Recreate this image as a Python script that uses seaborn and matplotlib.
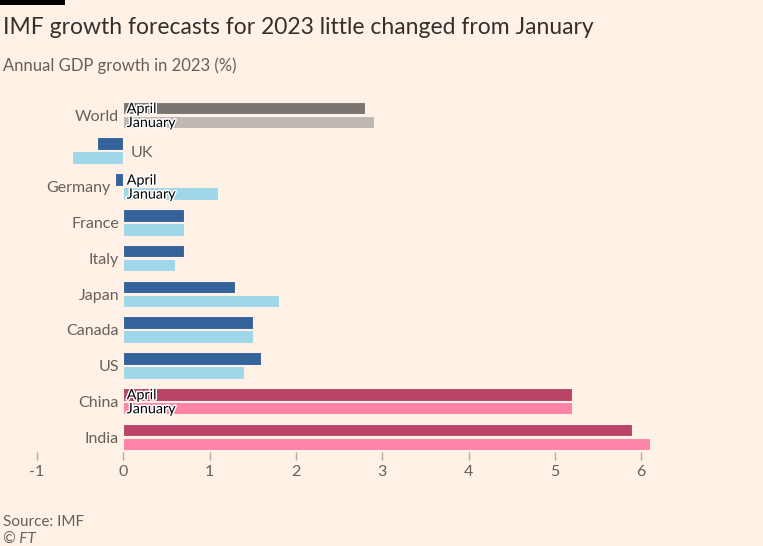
import matplotlib
matplotlib.use("Agg")
import matplotlib.pyplot as plt
import matplotlib.patheffects as pe
import seaborn as sns
import pandas as pd

countries = ["World", "UK", "Germany", "France", "Italy", "Japan", "Canada", "US", "China", "India"]
april = [2.8, -0.3, -0.1, 0.7, 0.7, 1.3, 1.5, 1.6, 5.2, 5.9]
january = [2.9, -0.6, 1.1, 0.7, 0.6, 1.8, 1.5, 1.4, 5.2, 6.1]
groups = ["world", "adv", "adv", "adv", "adv", "adv", "adv", "adv", "em", "em"]
labelled = ["World", "Germany", "China"]
xticks = [-1, 0, 1, 2, 3, 4, 5, 6]

palettes = {
    "world": ["#7a7570", "#bfb7b2"],
    "adv": ["#33639a", "#9fd6e9"],
    "em": ["#ba4468", "#fd83a7"],
}

BG = "#fff1e5"
rows = []
for c, a, j, g in zip(countries, april, january, groups):
    rows.append({"country": c, "series": "April", "value": a, "group": g})
    rows.append({"country": c, "series": "January", "value": j, "group": g})
df = pd.DataFrame(rows)

sns.set_theme(style="white")
plt.rcParams["font.family"] = ["Lato", "DejaVu Sans"]

W, H = 763, 546
fig = plt.figure(figsize=(W / 100, H / 100), dpi=100, facecolor=BG)
left, right, top, bottom = 37, 740, 93.5, 452
ax = fig.add_axes([left / W, 1 - bottom / H, (right - left) / W, (bottom - top) / H])
ax.set_facecolor(BG)

for g, pal in palettes.items():
    sub = df[df["group"] == g]
    sns.barplot(data=sub, y="country", x="value", hue="series",
                hue_order=["April", "January"], order=countries,
                palette=pal, ax=ax, legend=False, width=0.78, gap=0.1,
                orient="h", edgecolor=BG, linewidth=0.8, saturation=1)

ax.set_xlim(-1, -1 + (right - left) / 86.3)
ax.set_ylim(9 + (bottom - 437) / 35.78, -0.6)
for s in ax.spines.values():
    s.set_visible(False)
ax.set_ylabel("")
ax.set_xlabel("")
ax.set_yticks([])
ax.set_xticks(xticks)
ax.set_xticklabels([str(t) for t in xticks])
ax.tick_params(axis="x", bottom=True, length=6, width=1, color="#b3aca6",
               labelsize=11.5, labelcolor="#66605c", pad=3)

# category labels
for i, (c, a, j) in enumerate(zip(countries, april, january)):
    lo = min(a, j)
    if max(a, j) < 0:
        ax.text(0.09, i + 0.05, c, ha="left", va="center", fontsize=11.5, color="#66605c")
    else:
        ax.text(min(lo, 0) - 0.05, i + 0.05, c, ha="right", va="center", fontsize=11.5, color="#66605c")

# in-bar series labels
off = 0.78 / 4
for c in labelled:
    i = countries.index(c)
    for k, name in enumerate(["April", "January"]):
        y = i - off if k == 0 else i + off
        ax.text(0.04, y + 0.03, name, ha="left", va="center", fontsize=10.3, color="#000000",
                path_effects=[pe.withStroke(linewidth=2.2, foreground="white")])

# title block
fig.add_artist(plt.Rectangle((0, 1 - 5 / H), 65 / W, 5 / H, transform=fig.transFigure,
                             color="#000000", lw=0))
fig.text(3 / W, 1 - 28 / H, "IMF growth forecasts for 2023 little changed from January",
         fontsize=16.5, color="#33302e", va="center", ha="left")
fig.text(3 / W, 1 - 66 / H, "Annual GDP growth in 2023 (%)",
         fontsize=12, color="#66605c", va="center", ha="left")
fig.text(3 / W, 1 - 522 / H, "Source: IMF", fontsize=11, color="#66605c", va="center", ha="left")
fig.text(3 / W, 1 - 540 / H, "© FT", fontsize=11, color="#66605c", va="center", ha="left",
         style="italic")

fig.savefig("out.png", dpi=100, facecolor=BG)
